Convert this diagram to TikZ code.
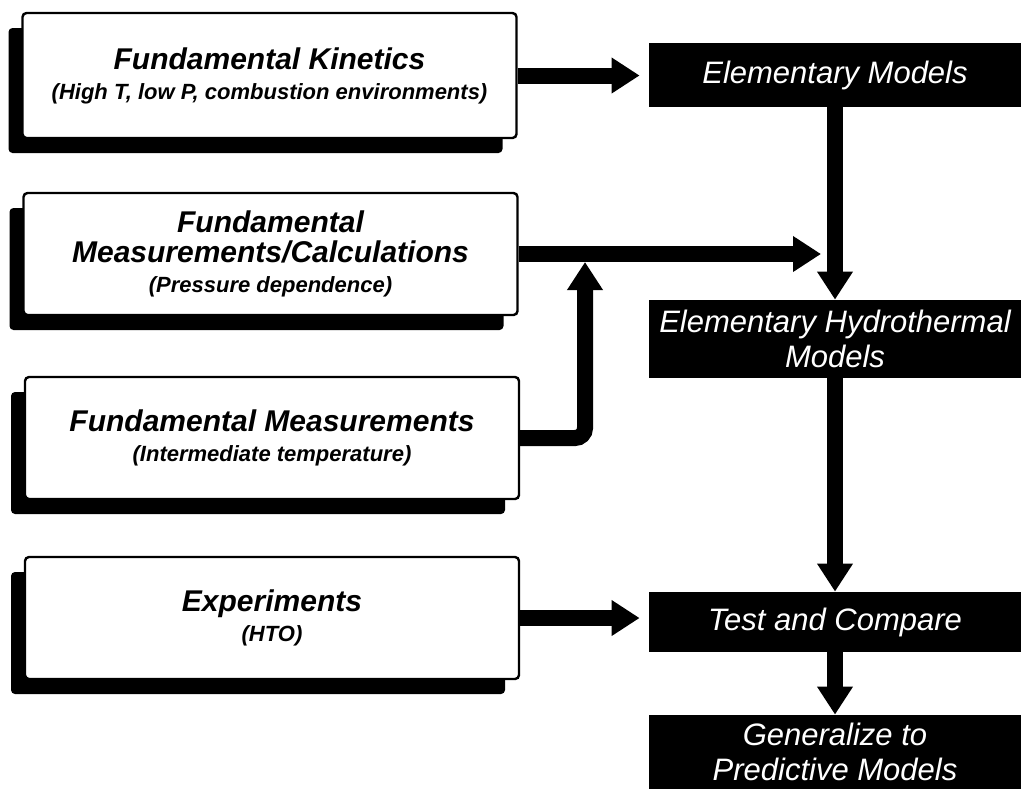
\documentclass[tikz,border=0pt]{standalone}
\usepackage{fontspec}
\setmainfont{Liberation Sans}
\usetikzlibrary{arrows.meta,shadows}

\tikzset{
    srcbox/.style={draw, line width=1.2pt, rounded corners=2pt, fill=white, inner sep=0pt,
        minimum width=247pt, minimum height=61pt, align=center,
        font=\fontsize{15}{15}\selectfont\bfseries\itshape,
        drop shadow={shadow xshift=-7pt, shadow yshift=-7.5pt, fill=black, opacity=1}},
    blkbox/.style={fill=black, text=white, inner sep=0pt, minimum width=186pt,
        align=center, font=\fontsize{15.5}{17.5}\selectfont\itshape},
    flow/.style={line width=8pt, -{Triangle[width=17pt,length=14pt]}},
}
\newcommand\subline[1]{{\fontsize{11}{13}\selectfont #1}}

\begin{document}
\begin{tikzpicture}[x=0.5pt, y=-0.5pt]
                \useasboundingbox (0,0) rectangle (1021,789);
                \node[srcbox, minimum height=62.5pt] (kin) at (269.5,75.5)
                    {Fundamental Kinetics\\\subline{(High T, low P, combustion environments)}};
                \node[srcbox] (calc) at (270.5,254)
                    {Fundamental\\Measurements/Calculations\\\subline{(Pressure dependence)}};
                \node[srcbox] (meas) at (272,438)
                    {Fundamental Measurements\\\subline{(Intermediate temperature)}};
                \node[srcbox] (expt) at (272,618)
                    {Experiments\\\subline{(HTO)}};
                \node[blkbox, minimum height=32pt] (em) at (835,75) {Elementary Models};
                \node[blkbox, minimum height=39pt] (ehm) at (835,339)
                    {Elementary Hydrothermal\\Models};
                \node[blkbox, minimum height=30pt] (tc) at (835,622) {Test and Compare};
                \node[blkbox, minimum height=37pt] (gpm) at (835,752)
                    {Generalize to\\Predictive Models};
                \coordinate (merge) at ([xshift=-7pt]calc.east -| em.south);
                \coordinate (join) at (585,262);
                \draw[flow, shorten >=4.5pt]
                    (kin.east) -- (kin.east -| em.west);
                \draw[flow]
                    (em.south) -- (ehm.north);
                \draw[flow]
                    (calc.east) -- (merge);
                \draw[flow, rounded corners=5pt]
                    (meas.east) -| (join);
                \draw[flow]
                    (ehm.south) -- (tc.north);
                \draw[flow, shorten >=4.5pt]
                    (expt.east) -- (expt.east -| tc.west);
                \draw[flow]
                    (tc.south) -- (gpm.north);
            \end{tikzpicture}
\end{document}
